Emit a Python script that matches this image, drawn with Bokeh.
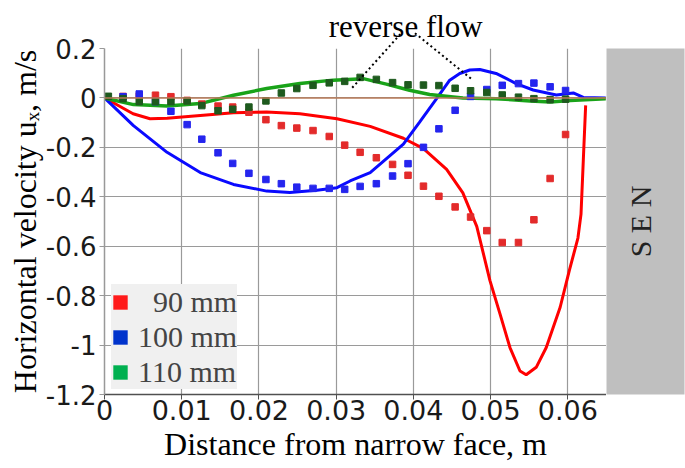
import math
from bokeh.plotting import figure
from bokeh.models import (Range1d, FixedTicker, NumeralTickFormatter, Span, Label,
                          Legend, LegendItem)
from bokeh.layouts import row
from bokeh.embed import file_html
from bokeh.resources import INLINE

NAN = float("nan")

# ---------------- data ----------------
x_ticks = [0, 0.01, 0.02, 0.03, 0.04, 0.05, 0.06]
y_ticks = [0.2, 0, -0.2, -0.4, -0.6, -0.8, -1.0, -1.2]

series_labels = ["\u00a0\u00a090 mm", "100 mm", "110 mm"]
legend_colors = ["#ff1a1a", "#0033cc", "#00b050"]

# measured points (dots)
dots_x = [0.0024, 0.0045, 0.0066, 0.0086, 0.0107, 0.0126, 0.0147, 0.0166, 0.0187, 0.0209,
          0.0229, 0.0249, 0.0270, 0.0291, 0.0311, 0.0331, 0.0352, 0.0373, 0.0393, 0.0413,
          0.0433, 0.0454, 0.0474, 0.0495, 0.0515, 0.0536, 0.0556, 0.0577, 0.0597]
red_dots_y = [0.006, 0.008, 0.011, 0.005, -0.010, -0.025, -0.033, -0.037, -0.058, -0.088,
              -0.112, -0.122, -0.132, -0.156, -0.191, -0.220, -0.242, -0.269, -0.313, -0.357,
              -0.398, -0.441, -0.482, -0.537, -0.585, -0.585, -0.493, -0.326, -0.148]
blue_dots_y = [0.005, 0.016, -0.015, -0.054, -0.108, -0.167, -0.222, -0.265, -0.305, -0.330,
               -0.347, -0.361, -0.366, -0.366, -0.370, -0.358, -0.347, -0.316, -0.266, -0.200,
               -0.125, -0.050, 0.006, 0.034, 0.051, 0.058, 0.060, 0.045, 0.030]
green_dots_x = [0.0005, 0.0024, 0.0045, 0.0066, 0.0086, 0.0107, 0.0126, 0.0147, 0.0166, 0.0187,
                0.0209, 0.0229, 0.0249, 0.0270, 0.0291, 0.0311, 0.0331, 0.0352, 0.0373, 0.0393,
                0.0413, 0.0433, 0.0454, 0.0474, 0.0495, 0.0515, 0.0536, 0.0556, 0.0577, 0.0597]
green_dots_y = [0.0065, -0.003, -0.015, -0.015, -0.015, -0.012, -0.031, -0.052, -0.046, -0.037,
                -0.012, 0.020, 0.038, 0.051, 0.061, 0.067, 0.083, 0.075, 0.062, 0.053,
                0.052, 0.050, 0.039, 0.029, 0.022, 0.012, 0.003, -0.003, -0.007, -0.005]

# simulated profiles (lines)
red_line_x = [0, 0.0037, 0.0059, 0.0081, 0.0124, 0.0167, 0.0210, 0.0253, 0.0301, 0.0344,
              0.0387, 0.0413, 0.0443, 0.0464, 0.0482, 0.0499, 0.0512, 0.0525, 0.0538, 0.0546,
              0.0559, 0.0572, 0.0590, 0.0602, 0.0613, 0.0617, 0.0620, 0.0623]
red_line_y = [0, -0.064, -0.084, -0.082, -0.071, -0.060, -0.057, -0.064, -0.084, -0.115,
              -0.163, -0.205, -0.289, -0.384, -0.520, -0.738, -0.873, -1.010, -1.105, -1.120,
              -1.090, -1.010, -0.847, -0.697, -0.567, -0.470, -0.250, -0.030]
blue_line_x = [0, 0.00375, 0.0081, 0.0124, 0.0167, 0.0210, 0.0240, 0.0275, 0.0301, 0.0318,
               0.0344, 0.0387, 0.0408, 0.0430, 0.0447, 0.0460, 0.0473, 0.0486, 0.0507, 0.0520,
               0.0533, 0.0555, 0.0585, 0.0607, 0.0620, 0.0649]
blue_line_y = [0, -0.112, -0.220, -0.302, -0.350, -0.377, -0.383, -0.374, -0.363, -0.336,
               -0.302, -0.187, -0.098, -0.003, 0.072, 0.099, 0.113, 0.115, 0.099, 0.079,
               0.058, 0.032, 0.012, 0.020, 0.002, 0]
green_line_x = [0, 0.00375, 0.0081, 0.0124, 0.0167, 0.0210, 0.0253, 0.0296, 0.0335, 0.0365,
                0.0395, 0.0421, 0.0464, 0.0507, 0.0551, 0.0577, 0.0603, 0.0649]
green_line_y = [0, -0.027, -0.033, -0.023, 0.011, 0.038, 0.058, 0.072, 0.078, 0.056,
                0.031, 0.014, 0.0, -0.003, -0.012, -0.016, -0.010, -0.003]

# "reverse flow" annotation
rev_left_x = [0.0383, 0.0319]
rev_left_y = [0.258, 0.035]
rev_right_x = [0.0402, 0.0477]
rev_right_y = [0.262, 0.072]
annotation_x = [0.039]
annotation_y = [0.289]
annotation_text = ["reverse flow"]
sen_text = "S E N"

SERIF = "Liberation Serif"
SANS = "DejaVu Sans"

# ---------------- main figure ----------------
p = figure(width=606, height=468, output_backend="svg", toolbar_location=None,
           x_range=Range1d(0, 0.065), y_range=Range1d(-1.2, 0.2),
           min_border_left=104, min_border_right=0, min_border_top=48, min_border_bottom=74)
p.outline_line_color = None
p.background_fill_color = "white"
p.border_fill_color = "white"

p.xaxis.ticker = FixedTicker(ticks=x_ticks)
p.yaxis.ticker = FixedTicker(ticks=y_ticks)
p.xgrid.ticker = FixedTicker(ticks=x_ticks)
p.ygrid.ticker = FixedTicker(ticks=y_ticks)
p.xaxis.formatter = NumeralTickFormatter(format="0.[00]")
p.yaxis.formatter = NumeralTickFormatter(format="0.[00]")
p.grid.grid_line_color = "#9a9a9a"
p.grid.grid_line_width = 1.2

for ax in (p.xaxis[0], p.yaxis[0]):
    ax.major_label_text_font = SANS
    ax.major_label_text_color = "#1a1a1a"
    ax.major_tick_in = 0
    ax.major_tick_out = 5
    ax.minor_tick_in = 0
    ax.minor_tick_out = 0
    ax.axis_label_text_font = SERIF
    ax.axis_label_text_font_size = "32px"
    ax.axis_label_text_font_style = "normal"
    ax.axis_label_text_color = "black"
p.xaxis.major_label_text_font_size = "27px"
p.yaxis.major_label_text_font_size = "26px"
p.xaxis.axis_line_color = "#505050"
p.xaxis.axis_line_width = 1.5
p.xaxis.major_tick_line_color = "#505050"
p.yaxis.axis_line_color = "#999999"
p.yaxis.axis_line_width = 1.5
p.yaxis.major_tick_line_color = "#999999"
p.xaxis.major_label_standoff = 0
p.yaxis.major_label_standoff = 3
p.xaxis.axis_label_standoff = 3
p.yaxis.axis_label_standoff = 0
p.xaxis.axis_label = "Distance from narrow face, m"
p.yaxis.axis_label = "Horizontal velocity u\u2093, m/s"

p.add_layout(Span(location=0, dimension="width", line_color="#b97a57", line_width=1.5))

# lines
p.line(red_line_x, red_line_y, line_color="#ff0000", line_width=3)
p.line(blue_line_x, blue_line_y, line_color="#0a0aff", line_width=3)
p.line(green_line_x, green_line_y, line_color="#19a319", line_width=3.5)

# dots
p.scatter(dots_x, red_dots_y, marker="square", size=6.5, fill_color="#e32b2b", line_color="#e32b2b")
p.scatter(dots_x, blue_dots_y, marker="square", size=6.5, fill_color="#2525ee", line_color="#2525ee")
p.scatter(green_dots_x, green_dots_y, marker="square", size=6.5, fill_color="#1e5a1e", line_color="#1e5a1e")

# reverse flow annotation
p.line(rev_left_x, rev_left_y, line_color="black", line_width=2, line_dash="2 3", level="overlay")
p.line(rev_right_x, rev_right_y, line_color="black", line_width=2, line_dash="2 3", level="overlay")
p.text(x=annotation_x, y=annotation_y, text=annotation_text, text_align="center",
       text_baseline="alphabetic", text_font={"value": SERIF}, text_font_size={"value": "31px"},
       text_color="black", level="overlay")

# legend (square swatches)
leg_renderers = []
for c in legend_colors:
    r = p.quad(left=[NAN], right=[NAN], top=[NAN], bottom=[NAN], fill_color=c, line_color=None)
    leg_renderers.append(r)
legend = Legend(items=[LegendItem(label=lab, renderers=[r]) for lab, r in zip(series_labels, leg_renderers)],
                location=(7, 5))
legend.background_fill_color = "#f0f0f0"
legend.background_fill_alpha = 1
legend.border_line_color = None
legend.label_text_font = SERIF
legend.label_text_font_size = "30px"
legend.glyph_width = 18
legend.glyph_height = 18
legend.label_height = 35
legend.label_standoff = 9
legend.spacing = 0
legend.padding = 5
legend.margin = 0
p.add_layout(legend)

# ---------------- SEN panel ----------------
p2 = figure(width=79, height=468, output_backend="svg", toolbar_location=None,
            x_range=Range1d(0, 1), y_range=Range1d(0, 1),
            x_axis_location=None, y_axis_location=None,
            min_border_left=0, min_border_right=1, min_border_top=31, min_border_bottom=42)
p2.background_fill_color = "#bfbfbf"
p2.border_fill_color = "white"
p2.outline_line_color = None
for g in p2.grid:
    g.visible = False
p2.add_layout(Label(x=0.43, y=0.5, text=sen_text, angle=math.pi / 2, text_align="center",
                    text_baseline="middle", text_font=SERIF, text_font_size="30px",
                    text_color="#222222"))

layout = row(p, p2)
open("out.html", "w").write(file_html(layout, INLINE))
